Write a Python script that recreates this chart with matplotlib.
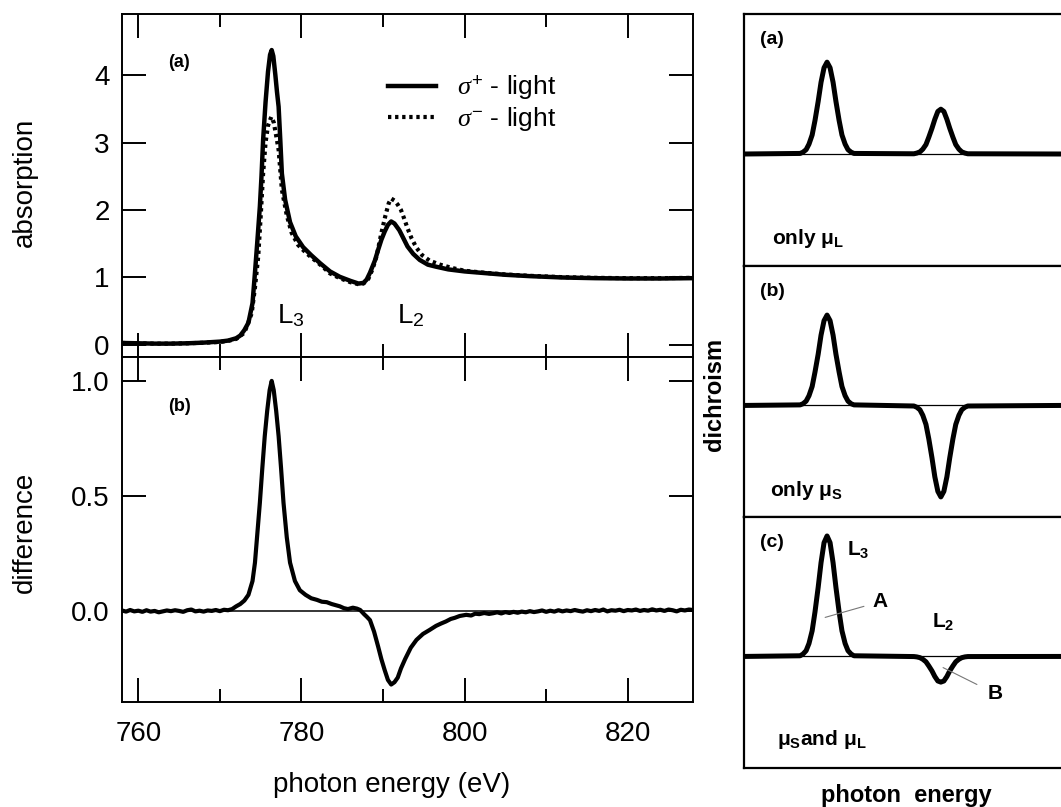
import matplotlib
matplotlib.use('Agg')
import matplotlib.pyplot as plt
from matplotlib.ticker import MultipleLocator

plt.rcParams['font.family'] = ['Liberation Sans', 'DejaVu Sans']
plt.rcParams['mathtext.fontset'] = 'custom'
plt.rcParams['mathtext.rm'] = 'Liberation Sans'
plt.rcParams['mathtext.it'] = 'Liberation Serif:italic'
plt.rcParams['mathtext.bf'] = 'Liberation Sans:bold'

# ---------------- data: XAS absorption (sigma+ light) ----------------
energy_plus = [758, 760, 762, 764, 766, 768, 770, 771, 772, 772.5, 773, 773.5, 774, 774.3,
               774.6, 774.9, 775.1, 775.3, 775.6, 775.9, 776.15, 776.35, 776.55, 776.8, 777.0,
               777.2, 777.4, 777.6, 778.0, 778.6, 779.3, 780.2, 781.2, 782.3, 783.5, 784.7,
               786.0, 787.0, 787.6, 788.0, 788.4, 789.0, 789.4, 789.8, 790.2, 790.6, 791.0,
               791.4, 792.0, 792.5, 793.0, 793.7, 794.5, 795.5, 796.5, 798, 800, 802, 805,
               808, 812, 816, 820, 824, 828]
abs_plus = [0.03, 0.025, 0.02, 0.02, 0.025, 0.035, 0.05, 0.065, 0.10, 0.14, 0.22, 0.33, 0.62, 1.07,
            1.55, 2.05, 2.50, 3.04, 3.60, 4.05, 4.30, 4.37, 4.28, 4.00, 3.75,
            3.53, 3.05, 2.54, 2.15, 1.82, 1.61, 1.45, 1.33, 1.21, 1.09, 1.01,
            0.95, 0.91, 0.92, 0.97, 1.07, 1.25, 1.41, 1.56, 1.68, 1.78, 1.83,
            1.80, 1.70, 1.58, 1.46, 1.35, 1.26, 1.19, 1.16, 1.12, 1.09, 1.07, 1.04,
            1.02, 1.00, 0.99, 0.985, 0.985, 0.99]

# ---------------- data: XAS absorption (sigma- light) ----------------
energy_minus = [758, 760, 762, 764, 766, 768, 770, 771, 772, 773, 773.9, 774.3, 774.7, 775.0,
                775.3, 775.6, 775.9, 776.3, 776.6, 776.9, 777.2, 777.6, 778.2, 778.8, 779.6,
                780.6, 781.5, 782.5, 783.5, 784.7, 786, 787, 787.6, 788.2, 788.7, 789.2,
                789.8, 790.3, 790.7, 791.0, 791.4, 791.8, 792.2, 792.6, 793.0, 793.5, 794.1,
                794.8, 795.7, 797, 798.5, 800, 802, 805, 808, 812, 816, 820, 824, 828]
abs_minus = [0.03, 0.025, 0.02, 0.02, 0.025, 0.033, 0.045, 0.06, 0.09, 0.18, 0.47, 0.85, 1.31, 1.90,
             2.54, 3.00, 3.25, 3.38, 3.30, 3.10, 2.89, 2.30, 1.92, 1.66, 1.48,
             1.36, 1.27, 1.17, 1.06, 0.99, 0.93, 0.90, 0.91, 0.98, 1.12, 1.31,
             1.66, 1.92, 2.10, 2.17, 2.14, 2.08, 2.00, 1.87, 1.73, 1.58, 1.44,
             1.33, 1.25, 1.19, 1.14, 1.10, 1.075, 1.045, 1.025, 1.005, 0.995, 0.99, 0.99, 0.995]

# ---------------- data: XMCD difference ----------------
energy_diff = [758.0, 758.5, 759, 759.5, 760, 760.5, 761, 761.5, 762, 762.5, 763, 763.5, 764,
               764.5, 765, 765.5, 766, 766.5, 767, 767.5, 768, 768.5, 769, 769.5, 770, 770.5,
               771, 771.5, 772, 772.5, 773, 773.5, 774, 774.3, 774.6, 774.9, 775.2, 775.5,
               775.8, 776.1, 776.35, 776.6, 776.9, 777.2, 777.5, 777.8, 778.2, 778.6, 779.2,
               779.8, 780.5, 781.2, 781.9, 782.5, 783.1, 783.7, 784.3, 784.7, 785.2, 785.7,
               786.3, 786.8, 787.2, 787.7, 788.0, 788.4, 788.9, 789.4, 789.8, 790.2, 790.6,
               791.0, 791.4, 791.8, 792.2, 792.7, 793.4, 794.1, 794.9, 795.7, 796.5, 797.1,
               797.7, 798.3, 798.8, 799.4, 800.2, 800.8, 801.3, 801.8, 802.4, 803, 803.5, 804,
               804.5, 805, 805.5, 806, 806.5, 807, 807.5, 808, 808.5, 809, 809.5, 810, 810.5,
               811, 811.5, 812, 812.5, 813, 813.5, 814, 814.5, 815, 815.5, 816, 816.5, 817,
               817.5, 818, 818.5, 819, 819.5, 820, 820.5, 821, 821.5, 822, 822.5, 823, 823.5,
               824, 824.5, 825, 825.5, 826, 826.5, 827, 827.5, 828]
diff_vals = [0.002, -0.003, 0.004, -0.002, 0.001, -0.004, 0.003, -0.003, 0.0, -0.006, -0.002, 0.002, -0.001,
             0.003, 0.0, -0.004, 0.003, 0.006, -0.002, 0.001, -0.003, 0.002, 0.0, 0.004, -0.001, 0.005,
             0.003, 0.008, 0.02, 0.03, 0.045, 0.07, 0.13, 0.21, 0.34, 0.47, 0.62, 0.76,
             0.87, 0.96, 1.0, 0.96, 0.87, 0.76, 0.62, 0.47, 0.32, 0.21, 0.13,
             0.09, 0.07, 0.055, 0.048, 0.04, 0.038, 0.03, 0.024, 0.02, 0.012, 0.008,
             0.014, 0.01, 0.004, -0.015, -0.025, -0.04, -0.09, -0.155, -0.21, -0.257, -0.30,
             -0.32, -0.31, -0.29, -0.25, -0.21, -0.16, -0.126, -0.10, -0.083, -0.065, -0.055,
             -0.046, -0.035, -0.03, -0.022, -0.017, -0.02, -0.012, -0.014, -0.009, -0.013, -0.01, -0.006,
             -0.011, -0.005, -0.009, -0.004, -0.008, -0.003, -0.006, -0.001, -0.005, -0.002, 0.002, -0.004, 0.001,
             -0.003, 0.003, -0.002, 0.002, -0.001, 0.004, 0.0, -0.003, 0.003, -0.001, 0.004, 0.0, 0.006,
             -0.002, 0.003, 0.001, 0.005, -0.001, 0.004, 0.002, 0.006, 0.0, 0.004, 0.001, 0.007, 0.002,
             0.005, 0.0, 0.006, 0.003, -0.002, 0.005, 0.002, 0.006, 0.004]

abs_ticks = [0, 1, 2, 3, 4]
abs_ticklabels = ['0', '1', '2', '3', '4']
diff_ticks = [0.0, 0.5, 1.0]
diff_ticklabels = ['0.0', '0.5', '1.0']

# ---------------- data: schematic dichroism (arbitrary units) ----------------
schem_energy = [0, 17.7, 18.6, 19.6, 20.5, 21.5, 22.4, 23.4, 24.3, 25.25, 26.2, 27.15, 28.1, 29.0,
                30.0, 30.9, 31.9, 32.8, 33.8, 34.7,
                53.6, 54.5, 55.5, 56.4, 57.4, 58.3, 59.3, 60.2, 61.15, 62.1, 63.05, 64.0, 64.9,
                65.9, 66.8, 67.8, 68.7, 69.7, 70.6, 100]
only_muL = [0, 0.005, 0.016, 0.039, 0.088, 0.17, 0.30, 0.47, 0.64, 0.77, 0.82, 0.77, 0.64, 0.47,
            0.30, 0.17, 0.088, 0.039, 0.016, 0.005,
            0.002, 0.008, 0.019, 0.043, 0.084, 0.15, 0.23, 0.31, 0.38, 0.40, 0.38, 0.31, 0.23,
            0.15, 0.084, 0.043, 0.019, 0.008, 0.002, 0]
only_muS = [0, 0.005, 0.015, 0.039, 0.087, 0.17, 0.30, 0.46, 0.63, 0.76, 0.81, 0.76, 0.63, 0.46,
            0.30, 0.17, 0.087, 0.039, 0.015, 0.005,
            -0.005, -0.016, -0.039, -0.088, -0.17, -0.30, -0.47, -0.64, -0.77, -0.82, -0.77, -0.64, -0.47,
            -0.30, -0.17, -0.088, -0.039, -0.016, -0.005, 0]
muS_and_muL = [0, 0.006, 0.021, 0.052, 0.116, 0.23, 0.40, 0.62, 0.84, 1.02, 1.08, 1.02, 0.84, 0.62,
               0.40, 0.23, 0.116, 0.052, 0.021, 0.006,
               -0.001, -0.004, -0.011, -0.025, -0.048, -0.085, -0.13, -0.18, -0.22, -0.23, -0.22, -0.18, -0.13,
               -0.085, -0.048, -0.025, -0.011, -0.004, -0.001, 0]

W, H = 1061, 807
fig = plt.figure(figsize=(W / 100, H / 100), dpi=100)


def frac(left, top, right, bottom):
    return [left / W, 1 - bottom / H, (right - left) / W, (bottom - top) / H]


ax1 = fig.add_axes(frac(122, 14, 693, 357))
ax2 = fig.add_axes(frac(122, 357, 693, 702))

for ax in (ax1, ax2):
    ax.set_xlim(758, 828)
    ax.xaxis.set_major_locator(MultipleLocator(20))
    ax.xaxis.set_minor_locator(MultipleLocator(10))
    ax.tick_params(which='both', direction='in', top=True, right=True, width=1.4,
                   labelsize=20, pad=9)
    ax.tick_params(axis='x', which='both', pad=14)
    ax.tick_params(which='major', length=17)
    ax.tick_params(which='minor', length=9.4)
    for s in ax.spines.values():
        s.set_linewidth(1.4)
ax1.tick_params(labelbottom=False)

ax1.plot(energy_plus, abs_plus, color='black', lw=3.2, solid_joinstyle='round',
         label=r'$\sigma^{+}$ - light')
ax1.plot(energy_minus, abs_minus, color='black', lw=3.0, linestyle=(0, (0.8, 0.9)),
         dash_capstyle='butt', label=r'$\sigma^{-}$ - light')
ax1.set_ylim(-0.178, 4.904)
ax1.set_yticks(abs_ticks)
ax1.set_yticklabels(abs_ticklabels)
ax1.text(763.7, 4.19, '(a)', fontsize=13, fontweight='bold', ha='left', va='center')
ax1.text(777.0, 0.33, 'L$_3$', fontsize=20, ha='left', va='baseline')
ax1.text(791.7, 0.33, 'L$_2$', fontsize=20, ha='left', va='baseline')
ax1.legend(loc='upper left', bbox_to_anchor=(0.466, 0.826), frameon=False, fontsize=19,
           handlelength=1.8, handletextpad=0.8, labelspacing=0.1, borderpad=0,
           borderaxespad=0)

ax2.axhline(0, color='black', lw=1.1)
ax2.plot(energy_diff, diff_vals, color='black', lw=3.0, solid_joinstyle='round')
ax2.set_ylim(-0.396, 1.104)
ax2.set_yticks(diff_ticks)
ax2.set_yticklabels(diff_ticklabels)
ax2.text(763.7, 0.89, '(b)', fontsize=13, fontweight='bold', ha='left', va='center')

fig.text(25 / W, 1 - 182 / H, 'absorption', rotation=90, fontsize=20, ha='center', va='center')
fig.text(25 / W, 1 - 532 / H, 'difference', rotation=90, fontsize=20, ha='center', va='center')
fig.text(392 / W, 1 - 792 / H, 'photon energy (eV)', fontsize=20, ha='center', va='baseline')

# ---------------- right: schematic panels ----------------
panels = [
    (frac(744, 14, W, 266), only_muL, '(a)'),
    (frac(744, 266, W, 517), only_muS, '(b)'),
    (frac(744, 517, W, 768), muS_and_muL, '(c)'),
]
raxes = []
for rect, yvals, tag in panels:
    ax = fig.add_axes(rect)
    ax.set_xlim(0, 100)
    ax.set_ylim(-1.0, 1.25)
    ax.set_xticks([])
    ax.set_yticks([])
    ax.spines['right'].set_visible(False)
    for s in ax.spines.values():
        s.set_linewidth(1.6)
    ax.axhline(0, color='black', lw=0.9)
    ax.plot(schem_energy, yvals, color='black', lw=3.6, solid_joinstyle='round')
    ax.text(5.0, 1.02, tag, fontsize=14, fontweight='bold', ha='left', va='center')
    raxes.append(ax)

raxes[0].text(8.8, -0.80, r'only $\mathbf{\mu}_\mathbf{L}$', fontsize=15, fontweight='bold',
              ha='left', va='baseline')
raxes[1].text(8.2, -0.81, r'only $\mathbf{\mu}_\mathbf{S}$', fontsize=15, fontweight='bold',
              ha='left', va='baseline')
axc = raxes[2]
axc.text(32.5, 0.91, r'L$_\mathbf{3}$', fontsize=15, fontweight='bold', ha='left', va='baseline')
axc.text(59.3, 0.26, r'L$_\mathbf{2}$', fontsize=15, fontweight='bold', ha='left', va='baseline')
axc.annotate('A', xy=(25.6, 0.35), xytext=(40.4, 0.44), fontsize=15, fontweight='bold',
             ha='left', va='baseline',
             arrowprops=dict(arrowstyle='-', color='#777777', lw=0.8, shrinkA=4, shrinkB=0))
axc.annotate('B', xy=(62.8, -0.10), xytext=(76.7, -0.38), fontsize=15, fontweight='bold',
             ha='left', va='baseline',
             arrowprops=dict(arrowstyle='-', color='#777777', lw=0.8, shrinkA=6, shrinkB=0))
axc.text(10.4, -0.79, r'$\mathbf{\mu}_\mathbf{S}$and $\mathbf{\mu}_\mathbf{L}$', fontsize=15,
         fontweight='bold', ha='left', va='baseline')

fig.text(714 / W, 1 - 394 / H, 'dichroism', rotation=90, fontsize=17, fontweight='bold',
         ha='center', va='center')
fig.text(906 / W, 1 - 802 / H, 'photon  energy', fontsize=17, fontweight='bold',
         ha='center', va='baseline')

fig.savefig('out.png', dpi=100)
